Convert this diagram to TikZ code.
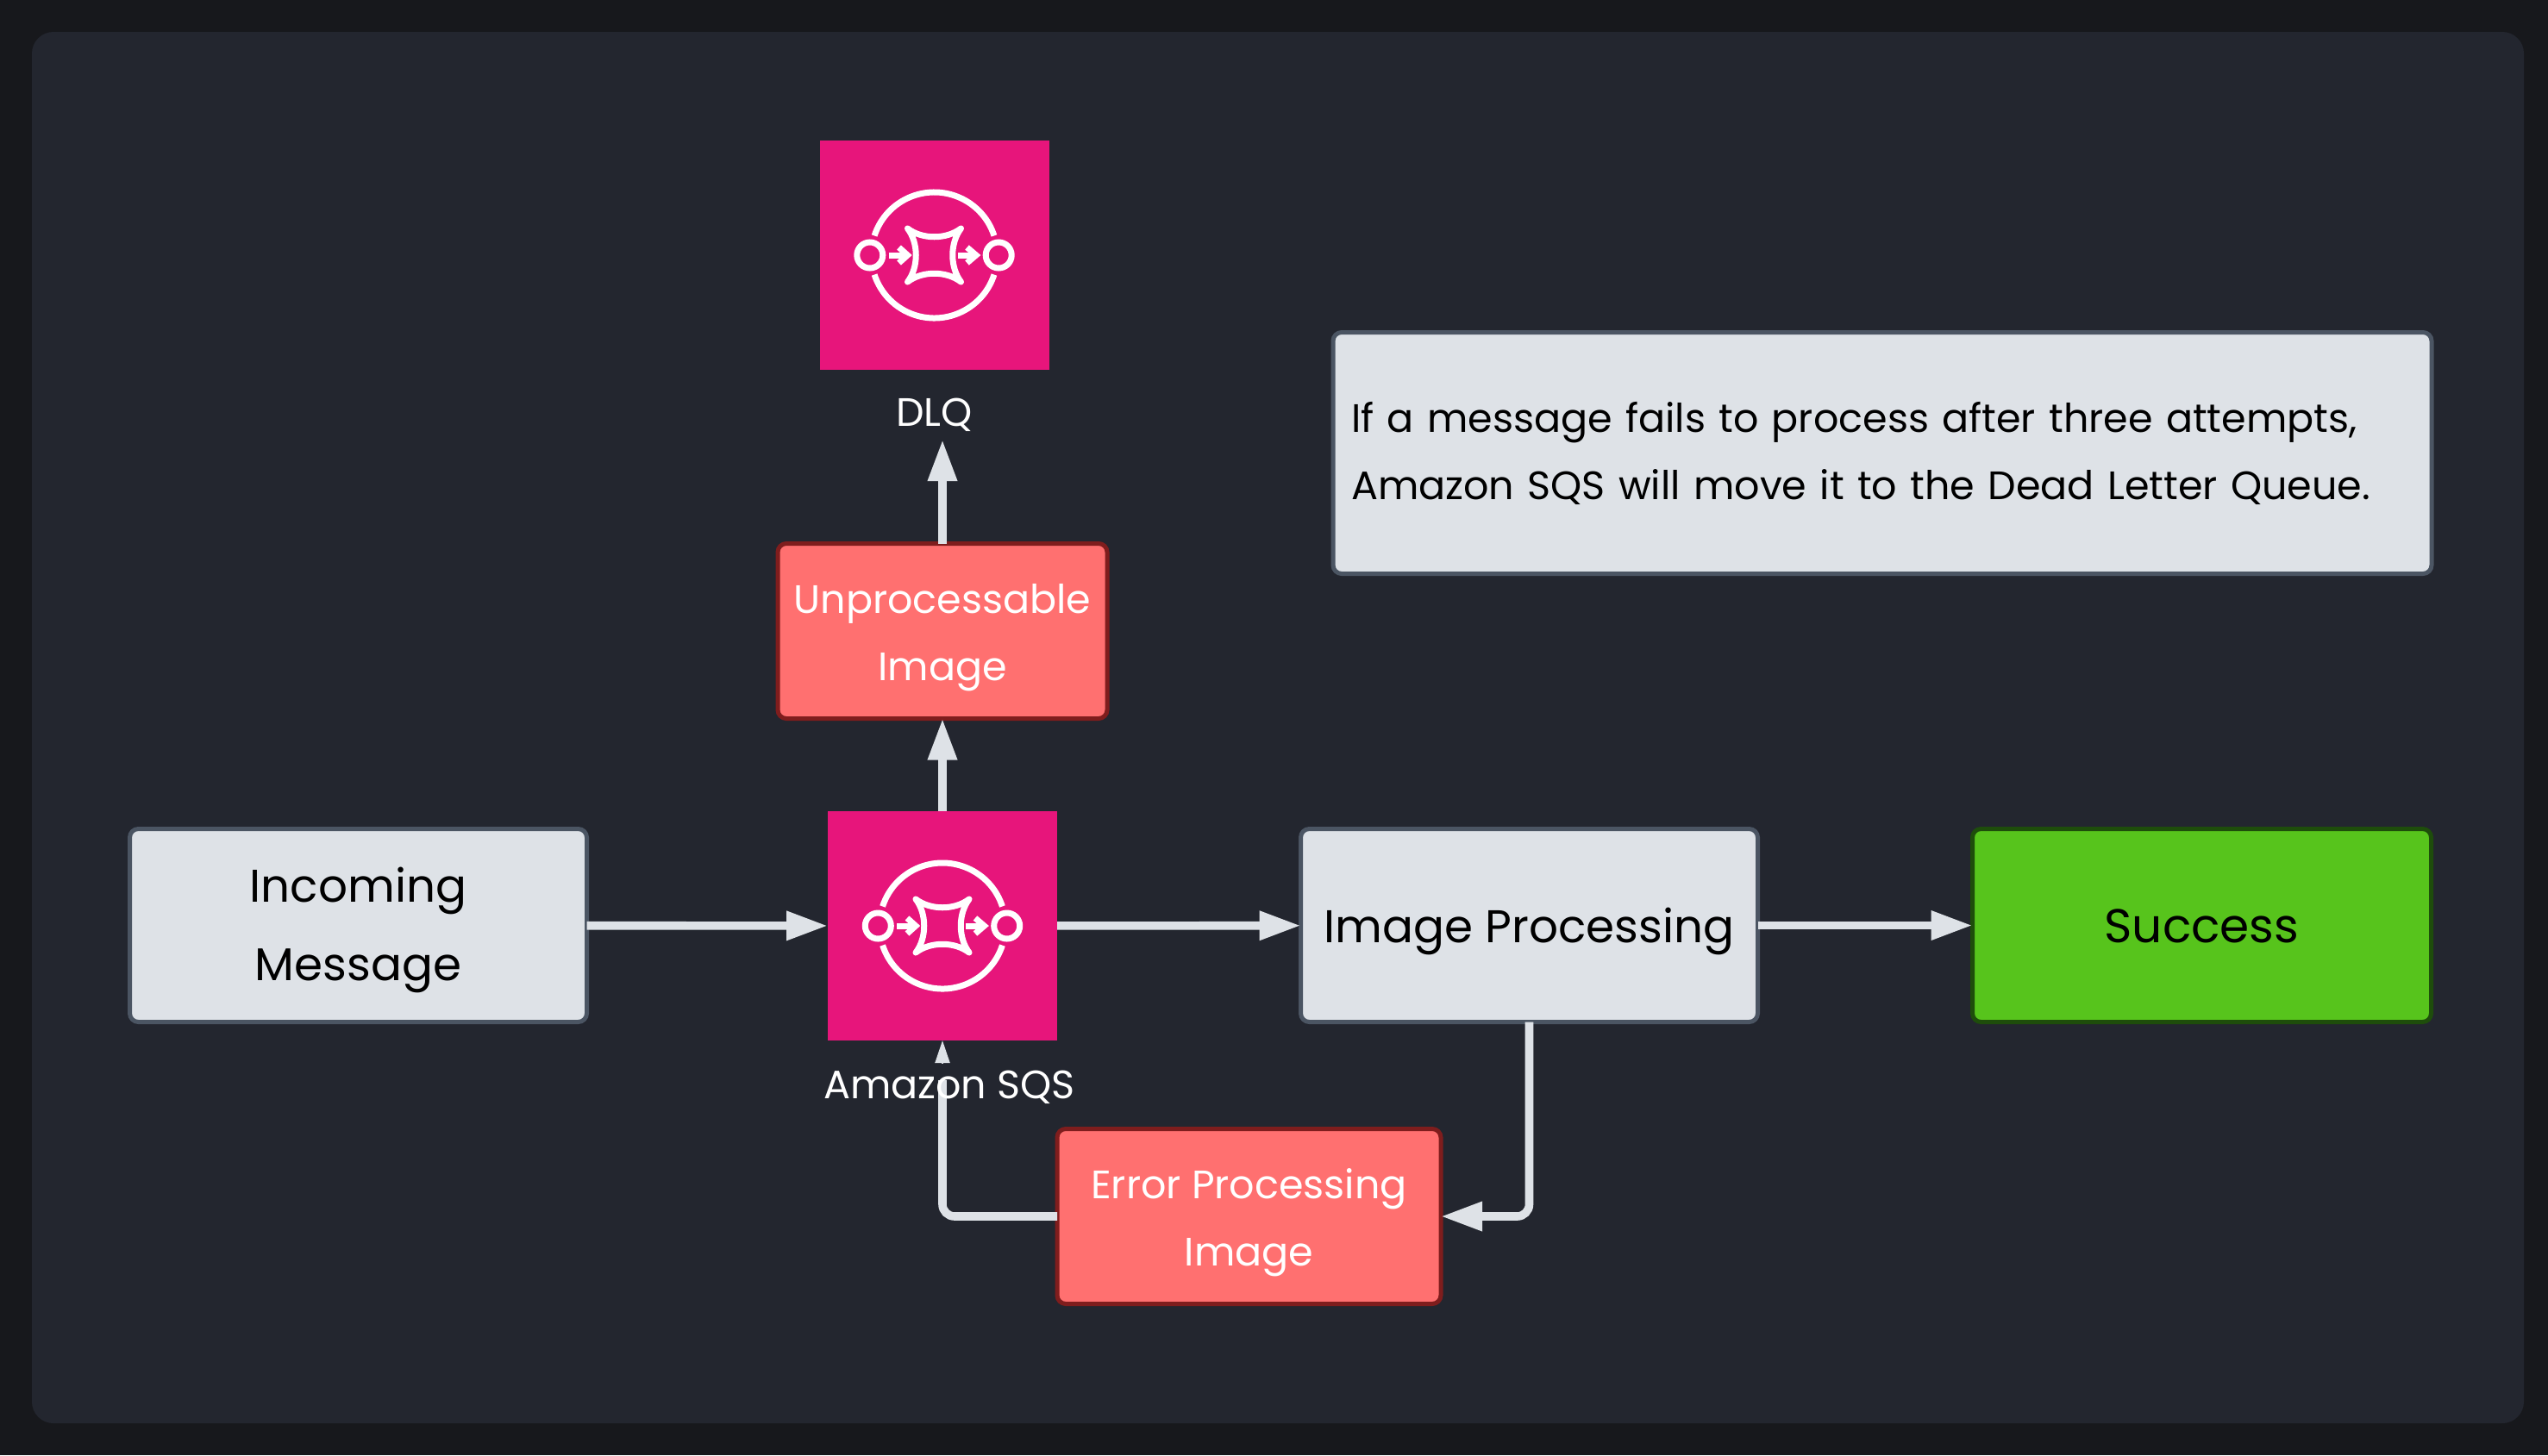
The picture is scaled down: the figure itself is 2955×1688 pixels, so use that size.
\documentclass[tikz,border=0pt]{standalone}
\usepackage{fontspec}
\setmainfont{Poppins}
\usetikzlibrary{arrows.meta, positioning}
\definecolor{pagebg}{HTML}{17181C}
\definecolor{panelbg}{HTML}{23262F}
\definecolor{boxgrey}{HTML}{DEE2E7}
\definecolor{boxedge}{HTML}{4B5563}
\definecolor{redfill}{HTML}{FF7070}
\definecolor{rededge}{HTML}{7F1D1D}
\definecolor{greenfill}{HTML}{57C41C}
\definecolor{greenedge}{HTML}{1E4D0B}
\definecolor{awspink}{HTML}{E7157B}
\tikzstyle{flowbox} = [
  rectangle,
  rounded corners=5pt,
  line width=2.5pt,
  outer sep=0pt,
  inner sep=0pt,
  align=center
]
\tikzstyle{greybox} = [
  flowbox,
  fill=boxgrey,
  draw=boxedge,
  text=black,
  minimum width=265pt,
  minimum height=112pt,
  font=\fontsize{26.6}{45.5}\selectfont
]
\tikzstyle{redbox} = [
  flowbox,
  fill=redfill,
  draw=rededge,
  text=white,
  minimum height=101.5pt,
  text height=57.2pt,
  text depth=0pt,
  font=\fontsize{23}{39}\selectfont
]
\tikzstyle{greenbox} = [
  flowbox,
  fill=greenfill,
  draw=greenedge,
  text=black,
  minimum width=266pt,
  minimum height=112pt,
  text height=20pt,
  text depth=0pt,
  font=\fontsize{27.5}{45.5}\selectfont
]
\tikzstyle{notebox} = [
  flowbox,
  fill=boxgrey,
  draw=boxedge,
  text=black,
  align=left,
  minimum width=637pt,
  minimum height=140pt,
  text height=20pt,
  text depth=44pt,
  font=\fontsize{23}{39}\selectfont
]
\tikzstyle{iconbox} = [
  rectangle,
  fill=awspink,
  outer sep=0pt,
  minimum size=133pt
]
\tikzstyle{iconlabel} = [
  text=white,
  inner sep=0pt,
  font=\fontsize{23}{26}\selectfont
]
\tikzstyle{glyph} = [white, line width=3.5pt]
\tikzstyle{arrow} = [
  boxgrey,
  line width=4.8pt,
  rounded corners=7pt,
  -{Triangle[length=24pt,width=16pt]}
]
\tikzstyle{plainlink} = [boxgrey, line width=4.8pt, rounded corners=7pt]
\tikzset{
  sqsglyph/.pic={
    % outer ring, cut at both sides
    \draw [glyph] (18:73) arc (18:162:73);
    \draw [glyph] (-18:73) arc (-18:-162:73);
    % end points
    \draw [glyph] (-74.7,0) circle (15);
    \draw [glyph] (74.7,0) circle (15);
    % small arrows
    \draw [glyph] (-53,0) -- (-33,0);
    \draw [glyph] (-41,-9) -- (-31,0) -- (-41,9);
    \draw [glyph] (27,0) -- (46,0);
    \draw [glyph] (38,-9) -- (48.5,0) -- (38,9);
    % queue in the middle
    \draw [glyph, line cap=round, line join=round]
      (-31,-31) .. controls (-14,-18) and (14,-18) .. (31,-31)
      .. controls (18,-14) and (18,14) .. (31,31)
      .. controls (14,18) and (-14,18) .. (-31,31)
      .. controls (-18,14) and (-18,-14) .. (-31,-31) -- cycle;
  }
}

\begin{document}
\begin{tikzpicture}[x=0.5pt, y=-0.5pt]

    % Background
    \fill [pagebg] (0,0) rectangle (2955,1688);
    \fill [panelbg, rounded corners=12.5pt] (37,37) rectangle (2927,1651);

    % Main row
    \node (incoming) [greybox, text height=63.5pt, text depth=0pt] at (415.5,1073.5) {Incoming\\Message};
    \node (sqs) [iconbox] at (1093,1074) {};
    \node (processing) [greybox, text height=20pt, text depth=0pt] at (1773.5,1073.5) {Image Processing};
    \node (success) [greenbox] at (2553.5,1073.5) {Success};

    % Red boxes
    \node (unprocessable) [redbox, minimum width=191pt] at (1093,732) {Unprocessable\\Image};
    \node (errorimage) [redbox, minimum width=222.5pt] at (1448.5,1411) {Error Processing\\Image};

    % Dead letter queue and note
    \node (dlq) [iconbox] at (1083.5,296) {};
    \node (note) [notebox, text width=616pt] at (2183,525.5) {If a message fails to process after three attempts,\\Amazon SQS will move it to the Dead Letter Queue.};

    % Helper points
    \coordinate (dlqtip) at (1093,510);
    \coordinate (errorgap) at (1093,1253);
    \coordinate (errorhead) at (1093,1234);

    % Arrows of the main row
    \draw [arrow] (incoming) -- (sqs);
    \draw [arrow] (sqs) -- (processing);
    \draw [arrow] (processing) -- (success);

    % Arrows going up
    \draw [arrow] (sqs) -- (unprocessable);
    \draw [arrow] (unprocessable.north) -- (dlqtip);

    % Retry loop
    \draw [arrow] (processing.south) |- (errorimage.east);
    \draw [plainlink] (errorimage.west) -| (errorgap);
    \draw [boxgrey, line width=1pt, -{Triangle[length=13pt,width=8.5pt]}] (errorhead) -- (sqs.south);

    % Icons
    \pic at (sqs) {sqsglyph};
    \pic at (dlq) {sqsglyph};

    % Icon labels
    \node (dlqlabel) [iconlabel, below=16.5pt of dlq] {DLQ};
    \node (sqslabel) [iconlabel, below=17.5pt of sqs, xshift=4pt] {Amazon SQS};

\end{tikzpicture}
\end{document}
